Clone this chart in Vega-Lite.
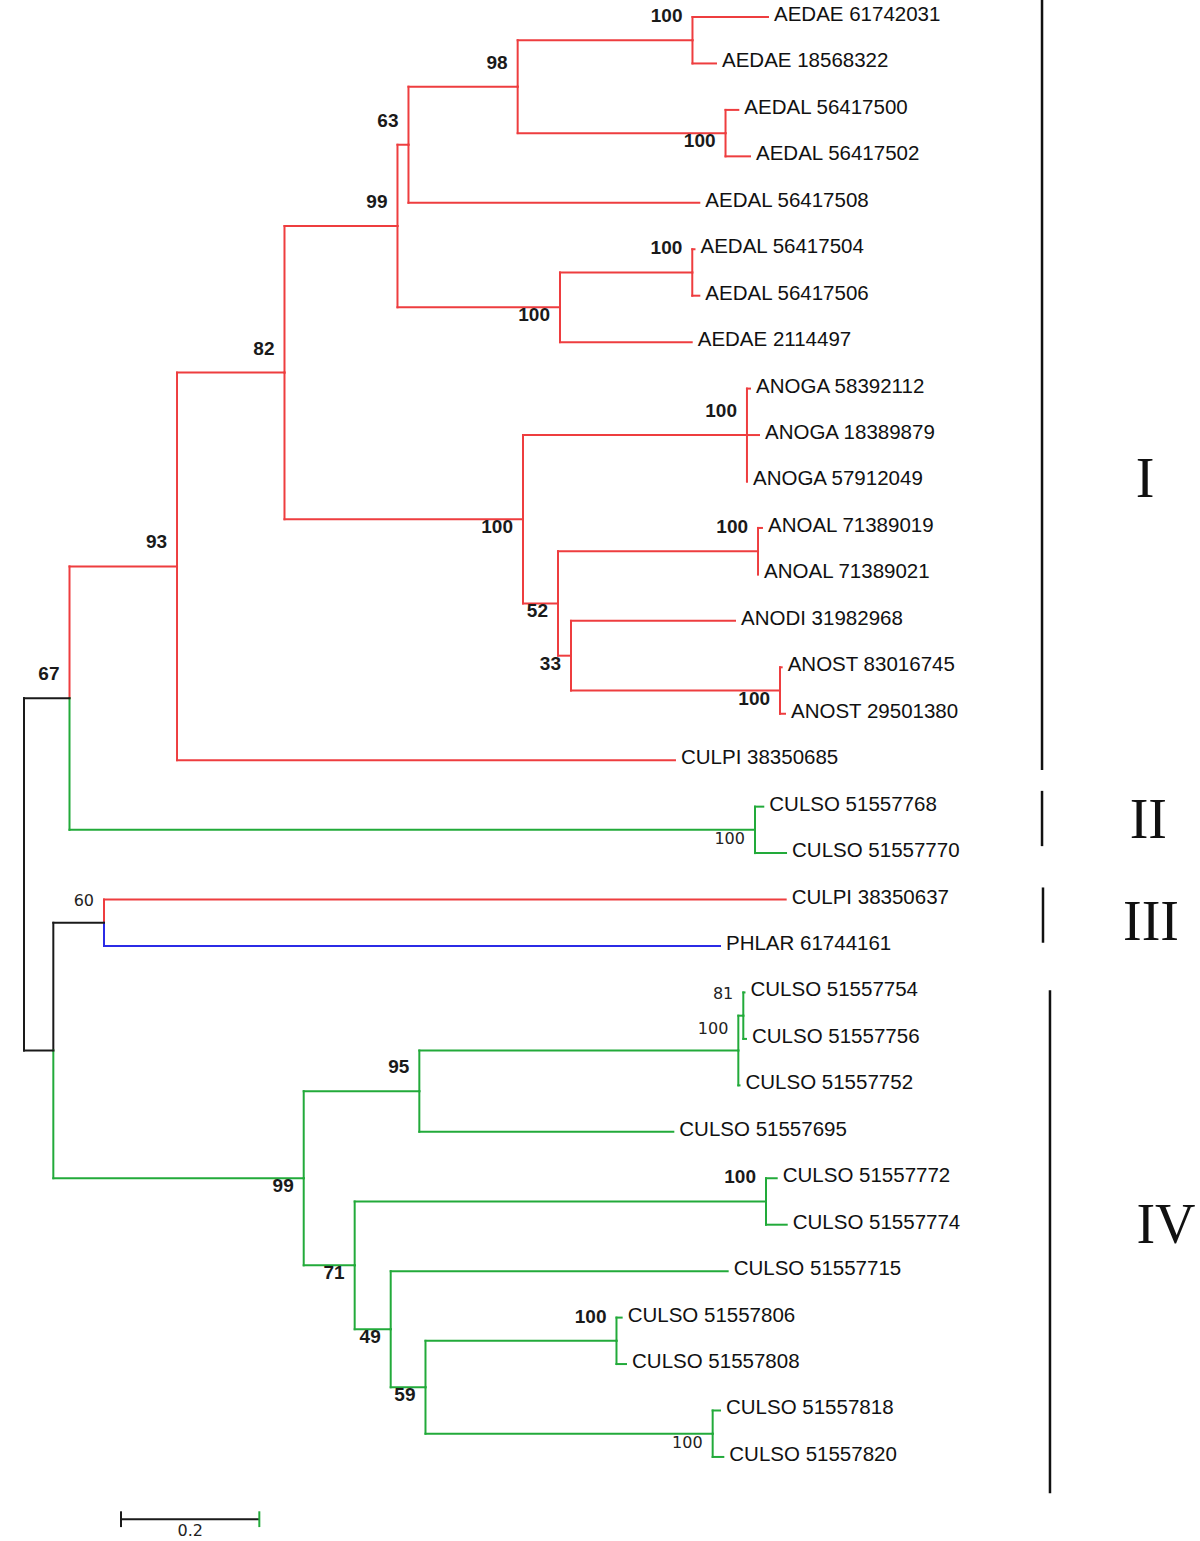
{
  "$schema": "https://vega.github.io/schema/vega-lite/v6.json",
  "width": 1200,
  "height": 1541,
  "autosize": "none",
  "padding": 0,
  "background": "white",
  "config": {"view": {"stroke": null}},
  "datasets": {
    "branches": [
      {"x0": 0, "y0": 18.457, "x1": 0.0658, "y1": 14.664, "group": "root", "support": 67, "side": "above", "style": "bold"},
      {"x0": 0, "y0": 18.457, "x1": 0.0424, "y1": 22.25, "group": "root"},
      {"x0": 0.0658, "y0": 14.664, "x1": 0.2213, "y1": 11.828, "group": "g1", "support": 93, "side": "above", "style": "bold"},
      {"x0": 0.0658, "y0": 14.664, "x1": 1.0571, "y1": 17.5, "group": "g2", "support": 100, "side": "below", "style": "plain"},
      {"x0": 0.2213, "y0": 11.828, "x1": 0.3767, "y1": 7.656, "group": "g1", "support": 82, "side": "above", "style": "bold"},
      {"x0": 0.2213, "y0": 11.828, "x1": 0.9414, "y1": 16, "group": "g1", "name": "CULPI 38350685"},
      {"x0": 0.3767, "y0": 7.656, "x1": 0.5401, "y1": 4.5, "group": "g1", "support": 99, "side": "above", "style": "bold"},
      {"x0": 0.3767, "y0": 7.656, "x1": 0.7216, "y1": 10.8125, "group": "g1", "support": 100, "side": "below", "style": "bold"},
      {"x0": 0.5401, "y0": 4.5, "x1": 0.556, "y1": 2.75, "group": "g1", "support": 63, "side": "above", "style": "bold"},
      {"x0": 0.5401, "y0": 4.5, "x1": 0.7751, "y1": 6.25, "group": "g1", "support": 100, "side": "below", "style": "bold"},
      {"x0": 0.556, "y0": 2.75, "x1": 0.7139, "y1": 1.5, "group": "g1", "support": 98, "side": "above", "style": "bold"},
      {"x0": 0.556, "y0": 2.75, "x1": 0.9766, "y1": 4, "group": "g1", "name": "AEDAL 56417508"},
      {"x0": 0.7139, "y0": 1.5, "x1": 0.9667, "y1": 0.5, "group": "g1", "support": 100, "side": "above", "style": "bold"},
      {"x0": 0.7139, "y0": 1.5, "x1": 1.0145, "y1": 2.5, "group": "g1", "support": 100, "side": "below", "style": "bold"},
      {"x0": 0.9667, "y0": 0.5, "x1": 1.0759, "y1": 0, "group": "g1", "name": "AEDAE 61742031"},
      {"x0": 0.9667, "y0": 0.5, "x1": 1.0007, "y1": 1, "group": "g1", "name": "AEDAE 18568322"},
      {"x0": 1.0145, "y0": 2.5, "x1": 1.033, "y1": 2, "group": "g1", "name": "AEDAL 56417500"},
      {"x0": 1.0145, "y0": 2.5, "x1": 1.0499, "y1": 3, "group": "g1", "name": "AEDAL 56417502"},
      {"x0": 0.7751, "y0": 6.25, "x1": 0.9664, "y1": 5.5, "group": "g1", "support": 100, "side": "above", "style": "bold"},
      {"x0": 0.7751, "y0": 6.25, "x1": 0.9656, "y1": 7, "group": "g1", "name": "AEDAE 2114497"},
      {"x0": 0.9664, "y0": 5.5, "x1": 0.9696, "y1": 5, "group": "g1", "name": "AEDAL 56417504"},
      {"x0": 0.9664, "y0": 5.5, "x1": 0.9766, "y1": 6, "group": "g1", "name": "AEDAL 56417506"},
      {"x0": 0.7216, "y0": 10.8125, "x1": 1.0455, "y1": 9, "group": "g1", "support": 100, "side": "above", "style": "bold"},
      {"x0": 0.7216, "y0": 10.8125, "x1": 0.7722, "y1": 12.625, "group": "g1", "support": 52, "side": "below", "style": "bold"},
      {"x0": 1.0455, "y0": 9, "x1": 1.0499, "y1": 8, "group": "g1", "name": "ANOGA 58392112"},
      {"x0": 1.0455, "y0": 9, "x1": 1.0629, "y1": 9, "group": "g1", "name": "ANOGA 18389879"},
      {"x0": 1.0455, "y0": 9, "x1": 1.0455, "y1": 10, "group": "g1", "name": "ANOGA 57912049"},
      {"x0": 0.7722, "y0": 12.625, "x1": 1.0615, "y1": 11.5, "group": "g1", "support": 100, "side": "above", "style": "bold"},
      {"x0": 0.7722, "y0": 12.625, "x1": 0.791, "y1": 13.75, "group": "g1", "support": 33, "side": "below", "style": "bold"},
      {"x0": 1.0615, "y0": 11.5, "x1": 1.0672, "y1": 11, "group": "g1", "name": "ANOAL 71389019"},
      {"x0": 1.0615, "y0": 11.5, "x1": 1.0615, "y1": 12, "group": "g1", "name": "ANOAL 71389021"},
      {"x0": 0.791, "y0": 13.75, "x1": 1.0282, "y1": 13, "group": "g1", "name": "ANODI 31982968"},
      {"x0": 0.791, "y0": 13.75, "x1": 1.0933, "y1": 14.5, "group": "g1", "support": 100, "side": "below", "style": "bold"},
      {"x0": 1.0933, "y0": 14.5, "x1": 1.0957, "y1": 14, "group": "g1", "name": "ANOST 83016745"},
      {"x0": 1.0933, "y0": 14.5, "x1": 1.1005, "y1": 15, "group": "g1", "name": "ANOST 29501380"},
      {"x0": 1.0571, "y0": 17.5, "x1": 1.0691, "y1": 17, "group": "g2", "name": "CULSO 51557768"},
      {"x0": 1.0571, "y0": 17.5, "x1": 1.102, "y1": 18, "group": "g2", "name": "CULSO 51557770"},
      {"x0": 0.0424, "y0": 22.25, "x1": 0.1157, "y1": 19.5, "group": "root", "support": 60, "side": "above", "style": "plain"},
      {"x0": 0.0424, "y0": 22.25, "x1": 0.4045, "y1": 25, "group": "g2", "support": 99, "side": "below", "style": "bold"},
      {"x0": 0.1157, "y0": 19.5, "x1": 1.1015, "y1": 19, "group": "g1", "name": "CULPI 38350637"},
      {"x0": 0.1157, "y0": 19.5, "x1": 1.0065, "y1": 20, "group": "g3", "name": "PHLAR 61744161"},
      {"x0": 0.4045, "y0": 25, "x1": 0.5717, "y1": 23.125, "group": "g2", "support": 95, "side": "above", "style": "bold"},
      {"x0": 0.4045, "y0": 25, "x1": 0.4782, "y1": 26.875, "group": "g2", "support": 71, "side": "below", "style": "bold"},
      {"x0": 0.5717, "y0": 23.125, "x1": 1.033, "y1": 22.25, "group": "g2", "support": 100, "side": "above", "style": "plain"},
      {"x0": 0.5717, "y0": 23.125, "x1": 0.939, "y1": 24, "group": "g2", "name": "CULSO 51557695"},
      {"x0": 1.033, "y0": 22.25, "x1": 1.0402, "y1": 21.5, "group": "g2", "support": 81, "side": "above", "style": "plain"},
      {"x0": 1.033, "y0": 22.25, "x1": 1.0347, "y1": 23, "group": "g2", "name": "CULSO 51557752"},
      {"x0": 1.0402, "y0": 21.5, "x1": 1.0419, "y1": 21, "group": "g2", "name": "CULSO 51557754"},
      {"x0": 1.0402, "y0": 21.5, "x1": 1.0441, "y1": 22, "group": "g2", "name": "CULSO 51557756"},
      {"x0": 0.4782, "y0": 26.875, "x1": 1.073, "y1": 25.5, "group": "g2", "support": 100, "side": "above", "style": "bold"},
      {"x0": 0.4782, "y0": 26.875, "x1": 0.5303, "y1": 28.25, "group": "g2", "support": 49, "side": "below", "style": "bold"},
      {"x0": 1.073, "y0": 25.5, "x1": 1.0885, "y1": 25, "group": "g2", "name": "CULSO 51557772"},
      {"x0": 1.073, "y0": 25.5, "x1": 1.103, "y1": 26, "group": "g2", "name": "CULSO 51557774"},
      {"x0": 0.5303, "y0": 28.25, "x1": 1.0176, "y1": 27, "group": "g2", "name": "CULSO 51557715"},
      {"x0": 0.5303, "y0": 28.25, "x1": 0.5806, "y1": 29.5, "group": "g2", "support": 59, "side": "below", "style": "bold"},
      {"x0": 0.5806, "y0": 29.5, "x1": 0.8568, "y1": 28.5, "group": "g2", "support": 100, "side": "above", "style": "bold"},
      {"x0": 0.5806, "y0": 29.5, "x1": 0.9959, "y1": 30.5, "group": "g2", "support": 100, "side": "below", "style": "plain"},
      {"x0": 0.8568, "y0": 28.5, "x1": 0.8643, "y1": 28, "group": "g2", "name": "CULSO 51557806"},
      {"x0": 0.8568, "y0": 28.5, "x1": 0.8706, "y1": 29, "group": "g2", "name": "CULSO 51557808"},
      {"x0": 0.9959, "y0": 30.5, "x1": 1.0065, "y1": 30, "group": "g2", "name": "CULSO 51557818"},
      {"x0": 0.9959, "y0": 30.5, "x1": 1.0113, "y1": 31, "group": "g2", "name": "CULSO 51557820"}
    ],
    "clades": [
      {"clade": "I", "x": 1.4722, "ya": -0.366, "yb": 16.21, "lx": 1.6211, "ly": 9.97},
      {"clade": "II", "x": 1.4722, "ya": 16.66, "yb": 17.85, "lx": 1.6259, "ly": 17.31},
      {"clade": "III", "x": 1.4736, "ya": 18.74, "yb": 19.93, "lx": 1.6298, "ly": 19.5},
      {"clade": "IV", "x": 1.4837, "ya": 20.95, "yb": 31.78, "lx": 1.6515, "ly": 26.03}
    ],
    "scalebar": [
      {"xa": 0.1403, "xb": 0.3403, "xm": 0.2403, "y": 32.34, "label": "0.2"}
    ],
    "scaleticks": [
      {"x": 0.1403, "ya": 32.17, "yb": 32.51, "group": "root"},
      {"x": 0.3403, "ya": 32.17, "yb": 32.51, "group": "g2"}
    ]
  },
  "layer": [
    {
      "data": {"name": "branches"},
      "mark": {"type": "rule", "strokeWidth": 2, "strokeCap": "square"},
      "encoding": {
        "x": {"field": "x0", "type": "quantitative", "scale": {"domain": [-0.03471, 1.70065], "nice": false, "zero": false}, "axis": null},
        "y": {"field": "y0", "type": "quantitative", "scale": {"domain": [-0.36599, 32.8095], "nice": false, "zero": false, "reverse": true}, "axis": null},
        "y2": {"field": "y1"},
        "color": {"field": "group", "type": "nominal", "scale": {"domain": ["root", "g1", "g2", "g3"], "range": ["#1a1a1a", "#ee3d3f", "#22aa3a", "#2b2be6"]}, "legend": null}
      }
    },
    {
      "data": {"name": "branches"},
      "mark": {"type": "rule", "strokeWidth": 2, "strokeCap": "square"},
      "encoding": {
        "x": {"field": "x0", "type": "quantitative", "scale": {"domain": [-0.03471, 1.70065], "nice": false, "zero": false}, "axis": null},
        "x2": {"field": "x1"},
        "y": {"field": "y1", "type": "quantitative", "scale": {"domain": [-0.36599, 32.8095], "nice": false, "zero": false, "reverse": true}, "axis": null},
        "color": {"field": "group", "type": "nominal", "scale": {"domain": ["root", "g1", "g2", "g3"], "range": ["#1a1a1a", "#ee3d3f", "#22aa3a", "#2b2be6"]}, "legend": null}
      }
    },
    {
      "data": {"name": "branches"},
      "transform": [{"filter": "datum.name != null"}],
      "mark": {"type": "text", "align": "left", "baseline": "alphabetic", "dx": 6, "dy": 4, "font": "Liberation Sans", "fontSize": 20.5, "fill": "#111111"},
      "encoding": {
        "x": {"field": "x1", "type": "quantitative", "scale": {"domain": [-0.03471, 1.70065], "nice": false, "zero": false}, "axis": null},
        "y": {"field": "y1", "type": "quantitative", "scale": {"domain": [-0.36599, 32.8095], "nice": false, "zero": false, "reverse": true}, "axis": null},
        "text": {"field": "name", "type": "nominal"}
      }
    },
    {
      "data": {"name": "branches"},
      "transform": [{"filter": "datum.support != null && datum.style == 'bold' && datum.side == 'above'"}],
      "mark": {"type": "text", "align": "right", "baseline": "alphabetic", "dx": -10, "dy": -18, "font": "Liberation Sans", "fontWeight": "bold", "fontSize": 19, "fill": "#1a1a1a"},
      "encoding": {
        "x": {"field": "x1", "type": "quantitative", "scale": {"domain": [-0.03471, 1.70065], "nice": false, "zero": false}, "axis": null},
        "y": {"field": "y1", "type": "quantitative", "scale": {"domain": [-0.36599, 32.8095], "nice": false, "zero": false, "reverse": true}, "axis": null},
        "text": {"field": "support", "type": "nominal"}
      }
    },
    {
      "data": {"name": "branches"},
      "transform": [{"filter": "datum.support != null && datum.style == 'bold' && datum.side == 'below'"}],
      "mark": {"type": "text", "align": "right", "baseline": "alphabetic", "dx": -10, "dy": 14, "font": "Liberation Sans", "fontWeight": "bold", "fontSize": 19, "fill": "#1a1a1a"},
      "encoding": {
        "x": {"field": "x1", "type": "quantitative", "scale": {"domain": [-0.03471, 1.70065], "nice": false, "zero": false}, "axis": null},
        "y": {"field": "y1", "type": "quantitative", "scale": {"domain": [-0.36599, 32.8095], "nice": false, "zero": false, "reverse": true}, "axis": null},
        "text": {"field": "support", "type": "nominal"}
      }
    },
    {
      "data": {"name": "branches"},
      "transform": [{"filter": "datum.support != null && datum.style == 'plain' && datum.side == 'above'"}],
      "mark": {"type": "text", "align": "right", "baseline": "alphabetic", "dx": -10, "dy": -17, "font": "DejaVu Sans", "fontSize": 16, "fill": "#222222"},
      "encoding": {
        "x": {"field": "x1", "type": "quantitative", "scale": {"domain": [-0.03471, 1.70065], "nice": false, "zero": false}, "axis": null},
        "y": {"field": "y1", "type": "quantitative", "scale": {"domain": [-0.36599, 32.8095], "nice": false, "zero": false, "reverse": true}, "axis": null},
        "text": {"field": "support", "type": "nominal"}
      }
    },
    {
      "data": {"name": "branches"},
      "transform": [{"filter": "datum.support != null && datum.style == 'plain' && datum.side == 'below'"}],
      "mark": {"type": "text", "align": "right", "baseline": "alphabetic", "dx": -10, "dy": 14, "font": "DejaVu Sans", "fontSize": 16, "fill": "#222222"},
      "encoding": {
        "x": {"field": "x1", "type": "quantitative", "scale": {"domain": [-0.03471, 1.70065], "nice": false, "zero": false}, "axis": null},
        "y": {"field": "y1", "type": "quantitative", "scale": {"domain": [-0.36599, 32.8095], "nice": false, "zero": false, "reverse": true}, "axis": null},
        "text": {"field": "support", "type": "nominal"}
      }
    },
    {
      "data": {"name": "clades"},
      "mark": {"type": "rule", "strokeWidth": 2.5, "color": "#111111"},
      "encoding": {
        "x": {"field": "x", "type": "quantitative", "scale": {"domain": [-0.03471, 1.70065], "nice": false, "zero": false}, "axis": null},
        "y": {"field": "ya", "type": "quantitative", "scale": {"domain": [-0.36599, 32.8095], "nice": false, "zero": false, "reverse": true}, "axis": null},
        "y2": {"field": "yb"}
      }
    },
    {
      "data": {"name": "clades"},
      "mark": {"type": "text", "align": "center", "baseline": "middle", "font": "Liberation Serif", "fontSize": 56, "fill": "#111111"},
      "encoding": {
        "x": {"field": "lx", "type": "quantitative", "scale": {"domain": [-0.03471, 1.70065], "nice": false, "zero": false}, "axis": null},
        "y": {"field": "ly", "type": "quantitative", "scale": {"domain": [-0.36599, 32.8095], "nice": false, "zero": false, "reverse": true}, "axis": null},
        "text": {"field": "clade", "type": "nominal"}
      }
    },
    {
      "data": {"name": "scalebar"},
      "mark": {"type": "rule", "strokeWidth": 2, "color": "#1a1a1a"},
      "encoding": {
        "x": {"field": "xa", "type": "quantitative", "scale": {"domain": [-0.03471, 1.70065], "nice": false, "zero": false}, "axis": null},
        "x2": {"field": "xb"},
        "y": {"field": "y", "type": "quantitative", "scale": {"domain": [-0.36599, 32.8095], "nice": false, "zero": false, "reverse": true}, "axis": null}
      }
    },
    {
      "data": {"name": "scaleticks"},
      "mark": {"type": "rule", "strokeWidth": 2},
      "encoding": {
        "x": {"field": "x", "type": "quantitative", "scale": {"domain": [-0.03471, 1.70065], "nice": false, "zero": false}, "axis": null},
        "y": {"field": "ya", "type": "quantitative", "scale": {"domain": [-0.36599, 32.8095], "nice": false, "zero": false, "reverse": true}, "axis": null},
        "y2": {"field": "yb"},
        "color": {"field": "group", "type": "nominal", "scale": {"domain": ["root", "g1", "g2", "g3"], "range": ["#1a1a1a", "#ee3d3f", "#22aa3a", "#2b2be6"]}, "legend": null}
      }
    },
    {
      "data": {"name": "scalebar"},
      "mark": {"type": "text", "align": "center", "baseline": "alphabetic", "dy": 17, "font": "DejaVu Sans", "fontSize": 16, "fill": "#222222"},
      "encoding": {
        "x": {"field": "xm", "type": "quantitative", "scale": {"domain": [-0.03471, 1.70065], "nice": false, "zero": false}, "axis": null},
        "y": {"field": "y", "type": "quantitative", "scale": {"domain": [-0.36599, 32.8095], "nice": false, "zero": false, "reverse": true}, "axis": null},
        "text": {"field": "label", "type": "nominal"}
      }
    }
  ]
}
